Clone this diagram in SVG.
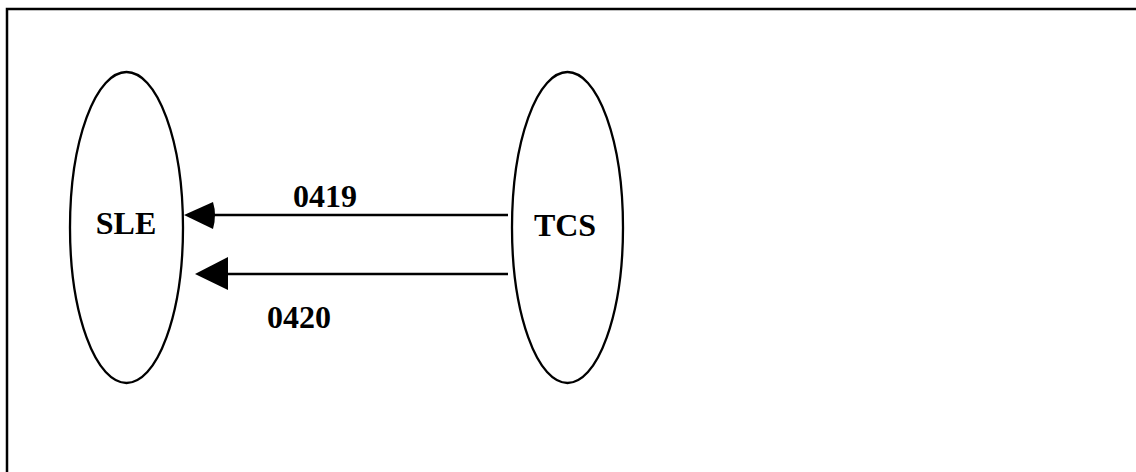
<svg xmlns="http://www.w3.org/2000/svg" width="1136" height="472" viewBox="0 0 1136 472">
<style>
.node{fill:#fff;stroke:#000;stroke-width:2.3}
.lbl{font-family:"Liberation Serif","Times New Roman",serif;font-weight:bold;fill:#000;font-size:32px}
.edge{stroke:#000;stroke-width:2.3;fill:none}
.head{fill:#000;stroke:none}
</style>
<rect x="7" y="9" width="1140" height="470" fill="#fff" stroke="#000" stroke-width="2.5"/>
<g id="node-SLE">
<ellipse class="node" cx="126.5" cy="227.5" rx="56.5" ry="155.5"/>
<text class="lbl" x="126" y="234" text-anchor="middle">SLE</text>
</g>
<g id="node-TCS">
<ellipse class="node" cx="567.5" cy="227.5" rx="55.5" ry="155.5"/>
<text class="lbl" x="565" y="236" text-anchor="middle">TCS</text>
</g>
<g id="connectors">
<line class="edge" x1="508" y1="215" x2="210" y2="215"/>
<path class="head" d="M184,215 L213,202 Q217,215 213,229 Z"/>
<text class="lbl" x="293" y="207">0419</text>
<line class="edge" x1="508" y1="274" x2="225" y2="274"/>
<polygon class="head" points="195,274 228,257 228,290"/>
<text class="lbl" x="267" y="328">0420</text>
</g>
</svg>
